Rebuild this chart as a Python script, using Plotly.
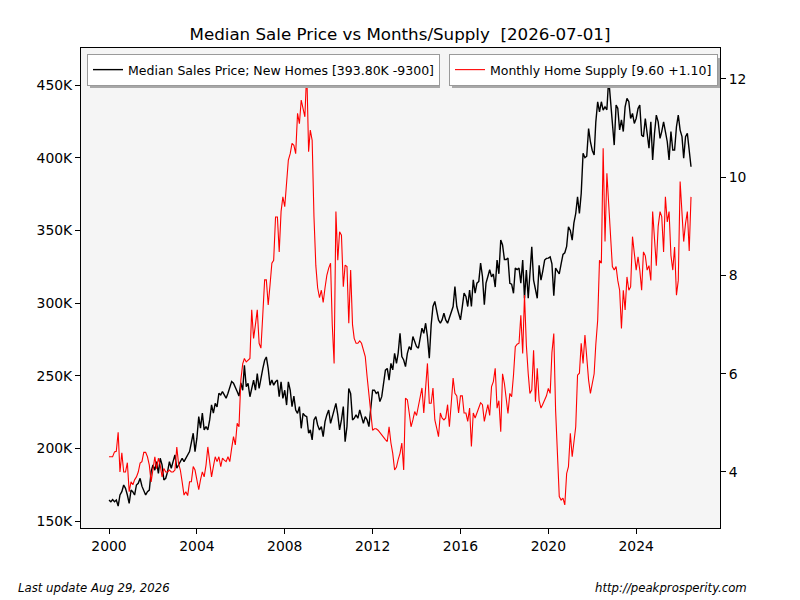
import pandas as pd
import plotly.graph_objects as go

# monthly values Jan 2000 .. Jul 2026

# median sales price of new homes, thousands of dollars
median_price_k = [
    164.4, 163.3, 164.8, 163.3, 164.4, 160.3, 167.9, 170.2, 174.8, 172.5, 167.9, 162.2,  # 2000
    171.3, 170.0, 167.9, 174.8, 176.0, 179.4, 174.0, 171.3, 167.9, 170.2, 171.3, 184.0,  # 2001
    188.6, 185.0, 190.9, 182.8, 193.2, 188.6, 178.3, 179.4, 184.0, 190.9, 186.3, 190.9,  # 2002
    195.5, 186.3, 188.6, 190.9, 193.2, 190.9, 193.0, 195.5, 197.8, 204.0, 210.4, 197.8,  # 2003
    207.0, 221.9, 213.9, 224.2, 212.7, 215.0, 212.7, 219.6, 229.9, 224.2, 231.0, 228.5,  # 2004
    237.9, 236.8, 239.1, 236.8, 234.5, 237.9, 241.4, 246.0, 244.8, 242.5, 239.1, 236.0,  # 2005
    245.0, 240.0, 257.2, 242.4, 244.7, 235.5, 242.4, 247.0, 240.0, 251.4, 241.2, 249.1,  # 2006
    254.9, 260.6, 262.9, 254.9, 243.5, 247.0, 243.5, 245.8, 247.0, 235.5, 245.8, 234.4,  # 2007
    240.0, 229.8, 245.8, 240.0, 228.7, 236.0, 226.4, 224.1, 228.7, 213.8, 224.1, 222.5,  # 2008
    221.8, 210.4, 212.7, 205.8, 219.6, 221.8, 216.1, 212.7, 215.0, 208.1, 218.4, 223.0,  # 2009
    226.4, 217.2, 221.8, 226.4, 231.0, 223.0, 212.7, 219.6, 228.7, 204.6, 215.0, 241.2,  # 2010
    237.7, 219.6, 220.7, 223.0, 220.7, 226.4, 221.8, 217.2, 221.8, 219.6, 215.0, 226.0,  # 2011
    240.0, 240.0, 237.8, 239.0, 232.2, 235.6, 244.7, 253.8, 255.0, 247.0, 258.5, 254.0,  # 2012
    265.4, 258.5, 265.4, 279.2, 263.1, 260.8, 256.2, 265.4, 270.0, 267.7, 276.9, 273.5,  # 2013
    270.0, 268.9, 275.8, 282.7, 279.2, 286.1, 276.9, 262.0, 285.0, 297.6, 301.1, 295.3,  # 2014
    288.4, 286.1, 288.4, 293.0, 288.4, 286.1, 289.6, 293.0, 297.6, 311.3, 297.6, 293.0,  # 2015
    288.4, 297.6, 306.8, 304.5, 297.6, 309.0, 297.6, 316.0, 306.8, 313.7, 314.9, 327.5,  # 2016
    318.3, 298.8, 313.7, 318.3, 322.9, 318.0, 320.0, 311.0, 329.6, 320.1, 343.3, 340.0,  # 2017
    330.0, 330.0, 331.0, 313.6, 313.0, 306.7, 324.0, 323.0, 324.0, 313.6, 329.6, 303.3,  # 2018
    322.7, 303.3, 320.1, 338.7, 315.8, 310.0, 303.3, 326.0, 315.8, 322.0, 329.6, 330.7,  # 2019
    330.9, 331.8, 327.0, 305.0, 324.0, 322.0, 320.0, 327.0, 333.5, 334.6, 339.0, 352.5,  # 2020
    350.0, 343.3, 355.0, 361.6, 373.1, 361.6, 375.4, 403.0, 400.0, 401.0, 420.0, 411.0,  # 2021
    405.0, 401.9, 424.7, 438.5, 431.6, 438.5, 432.7, 435.0, 433.0, 454.6, 440.0, 428.2,  # 2022
    408.7, 436.2, 434.0, 419.1, 426.0, 418.0, 435.0, 440.8, 438.5, 427.0, 430.5, 423.6,  # 2023
    427.0, 433.8, 436.2, 415.6, 414.5, 427.0, 414.5, 406.5, 424.7, 398.5, 416.8, 429.3,  # 2024
    424.7, 413.3, 418.0, 424.7, 418.0, 411.0, 398.5, 418.0, 405.3, 405.3, 421.3, 429.3,  # 2025
    419.0, 414.5, 399.6, 414.5, 416.8, 403.1, 393.8,                                     # 2026
]

# months of supply of new homes
months_supply = [
    4.31, 4.31, 4.31, 4.41, 4.42, 4.81, 4.00, 4.39, 4.00, 4.00, 4.19, 3.60,  # 2000
    3.80, 3.74, 3.84, 3.90, 4.00, 4.18, 4.21, 4.40, 4.40, 4.31, 4.14, 3.80,  # 2001
    4.11, 4.31, 4.07, 4.28, 4.14, 3.90, 4.07, 4.00, 4.00, 4.04, 4.00, 4.00,  # 2002
    4.04, 4.51, 4.18, 4.04, 3.80, 3.53, 3.60, 3.52, 3.80, 3.80, 4.11, 4.04,  # 2003
    3.84, 3.64, 3.84, 4.00, 3.90, 4.14, 4.51, 4.24, 3.90, 4.11, 4.31, 4.21,  # 2004
    4.31, 4.11, 4.28, 4.24, 4.21, 4.31, 4.21, 4.48, 4.72, 4.55, 4.99, 4.92,  # 2005
    5.87, 6.20, 6.31, 6.24, 6.28, 6.31, 7.30, 6.72, 7.00, 7.30, 6.62, 6.52,  # 2006
    7.20, 7.91, 7.91, 7.40, 7.80, 8.25, 8.31, 9.19, 9.19, 8.48, 9.30, 9.60,  # 2007
    9.40, 9.90, 10.35, 10.48, 10.69, 10.65, 10.48, 11.30, 11.09, 11.57, 11.40, 11.23,  # 2008
    12.18, 10.52, 10.96, 10.75, 9.20, 8.20, 7.75, 7.55, 7.70, 7.45, 7.75, 8.00,  # 2009
    8.15, 8.25, 7.00, 6.21, 9.30, 8.31, 8.89, 8.82, 7.77, 8.21, 8.18, 7.03,  # 2010
    8.11, 7.00, 6.72, 6.62, 6.62, 6.67, 6.62, 6.45, 6.35, 5.95, 5.60, 5.20,  # 2011
    4.85, 4.88, 4.88, 4.85, 4.80, 4.75, 4.69, 4.66, 4.62, 4.92, 4.59, 4.38,  # 2012
    4.04, 4.10, 4.25, 4.38, 4.59, 4.04, 5.50, 5.47, 5.20, 4.92, 5.06, 5.23,  # 2013
    5.15, 5.35, 5.57, 5.71, 5.20, 5.70, 6.21, 5.40, 5.40, 5.71, 5.06, 4.90,  # 2014
    4.72, 5.20, 5.10, 5.06, 5.10, 5.37, 4.92, 5.40, 5.91, 5.60, 5.55, 5.20,  # 2015
    5.55, 5.55, 5.20, 5.20, 5.03, 5.30, 4.52, 5.20, 5.10, 5.20, 5.30, 5.41,  # 2016
    5.37, 5.03, 5.20, 5.37, 5.15, 5.74, 5.84, 6.11, 5.30, 5.45, 4.82, 6.00,  # 2017
    5.80, 5.50, 5.19, 5.60, 5.53, 5.97, 6.55, 6.60, 6.62, 7.19, 6.41, 7.60,  # 2018
    6.58, 6.00, 5.60, 5.67, 6.48, 5.43, 6.11, 5.46, 5.30, 5.38, 5.45, 5.55,  # 2019
    5.70, 5.60, 6.43, 6.82, 5.26, 4.24, 3.50, 3.43, 3.47, 3.33, 3.97, 4.11,  # 2020
    4.79, 4.31, 4.60, 4.92, 5.97, 6.01, 6.62, 6.21, 6.79, 6.30, 5.87, 5.60,  # 2021
    5.84, 6.00, 6.60, 7.09, 8.31, 8.25, 10.59, 8.69, 10.08, 9.50, 9.00, 8.18,  # 2022
    8.11, 8.18, 7.90, 7.70, 6.92, 7.70, 7.30, 7.97, 7.70, 7.77, 8.79, 8.45,  # 2023
    8.11, 8.38, 8.11, 7.70, 8.48, 8.40, 8.11, 8.20, 7.90, 9.30, 8.76, 8.20,  # 2024
    9.00, 9.30, 9.20, 8.48, 9.60, 9.09, 9.30, 8.41, 8.11, 8.58, 7.60, 7.90,  # 2025
    9.91, 9.23, 8.69, 9.06, 9.30, 8.50, 9.60,                                # 2026
]

price_ticks = [150, 200, 250, 300, 350, 400, 450]
price_tick_text = ["150K", "200K", "250K", "300K", "350K", "400K", "450K"]
supply_ticks = [4, 6, 8, 10, 12]
year_ticks = ["2000", "2004", "2008", "2012", "2016", "2020", "2024"]

dates = pd.date_range("2000-01-01", periods=len(median_price_k), freq="MS")

last_p, prev_p = median_price_k[-1], median_price_k[-2]
last_s, prev_s = months_supply[-1], months_supply[-2]
price_name = "Median Sales Price; New Homes [{:.2f}K {:d}]".format(last_p, int(round((last_p - prev_p) * 1000)))
supply_name = "Monthly Home Supply [{:.2f} {:+.2f}]".format(last_s, last_s - prev_s)

FONT = "DejaVu Sans"

fig = go.Figure()

fig.add_trace(go.Scatter(x=dates, y=median_price_k, mode="lines", name=price_name,
                         line=dict(color="black", width=1.4), legend="legend", showlegend=True))
fig.add_trace(go.Scatter(x=dates, y=months_supply, mode="lines", name=supply_name,
                         line=dict(color="red", width=1.1), yaxis="y2", legend="legend2", showlegend=True))

# plot area is 81..720 px wide and 48..528 px high
W, H = 639.0, 480.0
L, T = 81.0, 48.0


def px(x):
    return (x - L) / W


def py(y):
    return 1 - (y - T) / H


legend_style = dict(xanchor="left", yanchor="top", bgcolor="white", bordercolor="#9a9a9a",
                    borderwidth=1, font=dict(family=FONT, size=12.5, color="black"),
                    itemwidth=30, tracegroupgap=0)

fig.update_layout(
    width=800, height=600,
    margin=dict(l=81, r=80, t=48, b=72),
    paper_bgcolor="white",
    plot_bgcolor="#f5f5f5",
    showlegend=True,
    font=dict(family=FONT, size=13.9, color="black"),
    title=dict(text="Median Sale Price vs Months/Supply  [2026-07-01]", x=0.5, xref="container",
               y=1 - 34 / 600.0, yref="container", yanchor="middle", xanchor="center",
               font=dict(family=FONT, size=16.7, color="black")),
    legend=dict(x=px(87), y=py(54), **legend_style),
    legend2=dict(x=px(449), y=py(54), **legend_style),
    xaxis=dict(range=["1998-09-22", "2027-10-26"], tickvals=[pd.Timestamp(y + "-01-01") for y in year_ticks],
               ticktext=year_ticks, ticks="outside", ticklen=5, tickcolor="black",
               showline=True, linecolor="black", linewidth=1, mirror=True,
               showgrid=False, zeroline=False),
    yaxis=dict(range=[145.2, 475.5], tickvals=price_ticks, ticktext=price_tick_text,
               ticks="outside", ticklen=5, tickcolor="black",
               showline=True, linecolor="black", linewidth=1, mirror=True,
               showgrid=False, zeroline=False),
    yaxis2=dict(range=[2.86, 12.63], tickvals=supply_ticks, overlaying="y", side="right",
                ticks="outside", ticklen=5, tickcolor="black",
                showline=True, linecolor="black", linewidth=1,
                showgrid=False, zeroline=False),
)

# drop shadows behind the two legend boxes (boxes drawn at 87..438 and 449..718)
for x0, x1 in [(90, 440), (452, 720)]:
    fig.add_shape(type="rect", xref="paper", yref="paper", x0=px(x0), x1=px(x1), y0=py(88), y1=py(58),
                  fillcolor="#a8a8a8", line=dict(width=0), layer="above")

fig.add_annotation(text="Last update Aug 29, 2026", xref="paper", yref="paper", x=px(16), y=py(587),
                   xanchor="left", yanchor="middle", showarrow=False,
                   font=dict(family="DejaVu Sans Condensed", size=13, color="black", style="italic"))
fig.add_annotation(text="http://peakprosperity.com", xref="paper", yref="paper", x=px(749), y=py(587),
                   xanchor="right", yanchor="middle", showarrow=False,
                   font=dict(family="DejaVu Sans Condensed", size=13, color="black", style="italic"))

# the page is photographed from its top-left corner, so drop the default body margin
fig.write_html("out.html", config={"displayModeBar": False},
               post_script="document.body.style.margin='0px';")
